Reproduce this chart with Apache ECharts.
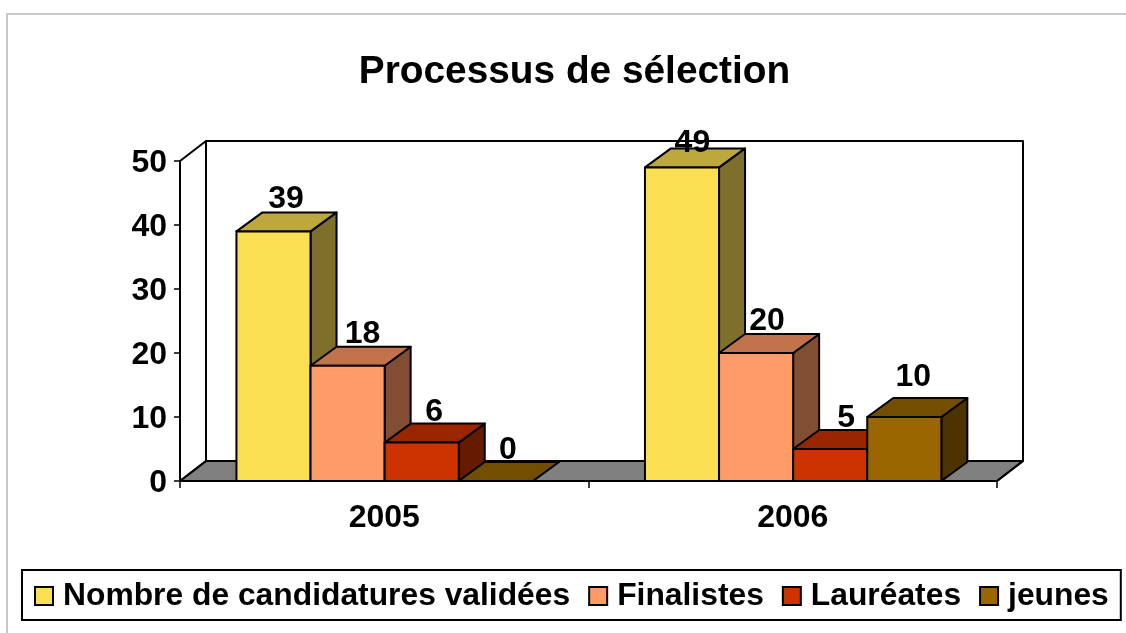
<!DOCTYPE html>
<html><head><meta charset="utf-8">
<style>html,body{margin:0;padding:0;background:#fff}#c{width:1126px;height:633px}</style>
<script src="https://cdn.jsdelivr.net/npm/echarts@6/dist/echarts.min.js"></script>
</head><body><div id="c"></div>
<script>
var categories = ['2005', '2006'];
var candidatures = [39, 49];
var finalistes = [18, 20];
var laureates = [6, 5];
var jeunes = [0, 10];
var seriesNames = ['Nombre de candidatures validées', 'Finalistes', 'Lauréates', 'jeunes'];
var seriesValues = [candidatures, finalistes, laureates, jeunes];
var frontColors = ['#FADF52', '#FF9B66', '#CC3300', '#996600'];
var topColors = ['#BDA83E', '#C1744C', '#9A2600', '#734D00'];
var sideColors = ['#7E702A', '#824E33', '#661A00', '#4D3300'];
var yTicks = [0, 50, 10];

var FONT = '"Liberation Sans", Arial, sans-serif';
var LABEL_PX = 32;
var WALL_DX = 26, WALL_DY = 20, BAR_DX = 26, BAR_DY = 19;
var BAR_FRAC = 74.1 / 408.5, CAT_SHIFT = 0.4;
// hand-placed data labels in the source chart: offset from each bar's centre / back-top edge
var labelNudgeX = [[12.5, 15, 12.5, 12], [10.4, 11, 16, 9]];
var labelNudgeY = [[-13, -12.5, -11.5, -11.5], [-5, -13, -12, -20.5]];

function barBox(api, si) {
  var cat = api.value(0), val = api.value(1);
  var base = api.coord([cat, 0]), top = api.coord([cat, val]);
  var band = api.size([1, 0])[0], w = band * BAR_FRAC;
  var x0 = base[0] - 2 * w + CAT_SHIFT + si * w;
  return { x0: x0, x1: x0 + w, yB: base[1], yT: top[1] };
}
function poly(points, fill, lw) {
  return { type: 'polygon', shape: { points: points },
    style: { fill: fill, stroke: '#000', lineWidth: lw || 2, lineJoin: 'round' } };
}
function barSeries(si) {
  return {
    type: 'custom', name: seriesNames[si], z: 5 + si,
    coordinateSystem: 'cartesian2d', clip: false,
    itemStyle: { color: frontColors[si], borderColor: '#000', borderWidth: 2 },
    data: categories.map(function (c, i) { return [i, seriesValues[si][i]]; }),
    encode: { x: 0, y: 1 },
    renderItem: function (p, api) {
      var b = barBox(api, si), dx = BAR_DX, dy = BAR_DY;
      var children = [];
      children.push(poly([[b.x1, b.yB], [b.x1 + dx, b.yB - dy], [b.x1 + dx, b.yT - dy], [b.x1, b.yT]], sideColors[si]));
      children.push(poly([[b.x0, b.yT], [b.x0 + dx, b.yT - dy], [b.x1 + dx, b.yT - dy], [b.x1, b.yT]], topColors[si]));
      if (b.yB - b.yT > 0.5) {
        children.push(poly([[b.x0, b.yB], [b.x0, b.yT], [b.x1, b.yT], [b.x1, b.yB]], frontColors[si]));
      }
      return { type: 'group', children: children };
    }
  };
}
var labelSeries = {
  type: 'custom', name: 'labels', z: 20, coordinateSystem: 'cartesian2d', clip: false, silent: true,
  data: (function () {
    var out = [];
    seriesValues.forEach(function (vals, si) { vals.forEach(function (v, i) { out.push([i, v, si]); }); });
    return out;
  })(),
  encode: { x: 0, y: 1 },
  renderItem: function (p, api) {
    var si = api.value(2), cat = api.value(0), b = barBox(api, si);
    return { type: 'text', style: {
      x: (b.x0 + b.x1) / 2 + labelNudgeX[cat][si], y: b.yT - BAR_DY + labelNudgeY[cat][si],
      text: String(api.value(1)), align: 'center', verticalAlign: 'middle',
      font: 'bold ' + LABEL_PX + 'px ' + FONT, fill: '#000' } };
  }
};
var wallSeries = {
  type: 'custom', name: 'walls', z: 1, coordinateSystem: 'cartesian2d', clip: false, silent: true,
  data: [[0, yTicks[1]]],
  encode: { x: 0, y: 1 },
  renderItem: function (p, api) {
    var cs = p.coordSys, L = cs.x, R = cs.x + cs.width, T = cs.y, B = cs.y + cs.height;
    var dx = WALL_DX, dy = WALL_DY;
    return { type: 'group', children: [
      poly([[L, B], [L + dx, B - dy], [R + dx, B - dy], [R, B]], '#808080'),
      poly([[L + dx, B - dy], [L + dx, T - dy], [R + dx, T - dy], [R + dx, B - dy]], '#fff'),
      { type: 'line', shape: { x1: L, y1: T, x2: L + dx, y2: T - dy }, style: { stroke: '#000', lineWidth: 2 } },
      { type: 'line', shape: { x1: L, y1: B, x2: L + dx, y2: B - dy }, style: { stroke: '#000', lineWidth: 2 } },
      { type: 'line', shape: { x1: R, y1: B, x2: R + dx, y2: B - dy }, style: { stroke: '#000', lineWidth: 2 } }
    ] };
  }
};

var chart = echarts.init(document.getElementById('c'), null, { renderer: 'canvas' });
chart.setOption({
  animation: false,
  backgroundColor: '#fff',
  graphic: [{ type: 'rect', z: -1, shape: { x: 7, y: 14, width: 1140, height: 640 },
    style: { fill: '#fff', stroke: '#C8C8C8', lineWidth: 2 } }],
  title: { text: 'Processus de sélection', left: 569.5, top: 48, textAlign: 'center',
    textStyle: { fontFamily: FONT, fontWeight: 'bold', fontSize: 38.8, color: '#000' } },
  legend: {
    left: 22, top: 570, width: 1076, padding: [10, 12, 8, 12], itemGap: 18,
    itemWidth: 18, itemHeight: 18,
    backgroundColor: '#fff', borderColor: '#000', borderWidth: 2,
    icon: 'rect',
    data: seriesNames,
    textStyle: { fontFamily: FONT, fontWeight: 'bold', fontSize: 31.8, color: '#000', padding: [0, 0, 0, 5] }
  },
  grid: { left: 180, top: 161, width: 817, height: 320, containLabel: false },
  xAxis: { type: 'category', data: categories,
    axisLine: { lineStyle: { color: '#000', width: 2 } },
    axisTick: { show: true, length: 7, alignWithLabel: false, lineStyle: { color: '#000', width: 1.5 } },
    axisLabel: { fontFamily: FONT, fontWeight: 'bold', fontSize: 32, color: '#000', margin: 21 } },
  yAxis: { type: 'value', min: yTicks[0], max: yTicks[1], interval: yTicks[2],
    splitLine: { show: false },
    axisLine: { show: true, lineStyle: { color: '#000', width: 2 } },
    axisTick: { show: true, length: 6, lineStyle: { color: '#000', width: 1.5 } },
    axisLabel: { fontFamily: FONT, fontWeight: 'bold', fontSize: 32, color: '#000', margin: 13, verticalAlign: 'top', lineHeight: 5 } },
  series: [wallSeries].concat(seriesNames.map(function (n, i) { return barSeries(i); })).concat([labelSeries])
});
</script></body></html>
